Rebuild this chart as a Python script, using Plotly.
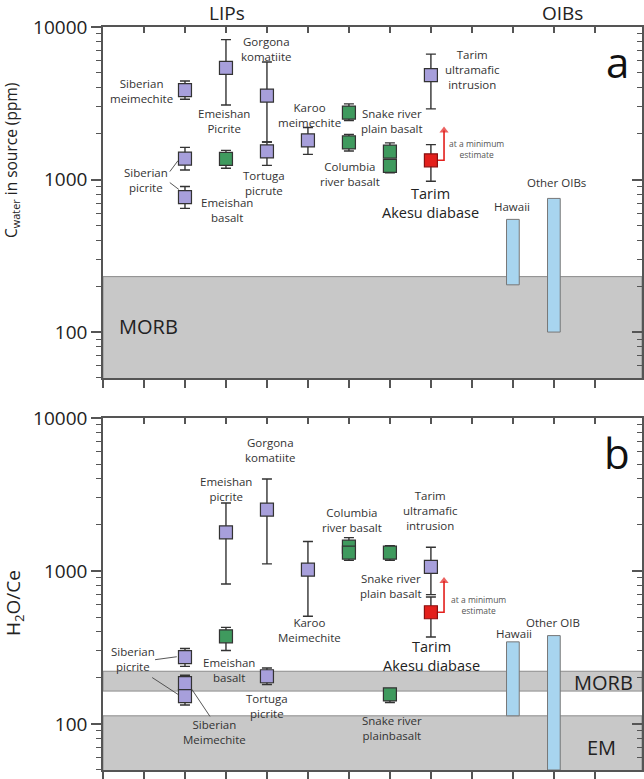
import numpy as np
import plotly.graph_objects as go

# ---------------- data ----------------
# Panel a: C_water in source (ppm)
a_pur_x = [2, 2, 2, 3, 4, 4, 5, 8]
a_pur_y = [3860, 1370, 767, 5400, 3550, 1530, 1806, 4840]
a_pur_hi = [4425, 1625, 900, 8260, 5890, 1761, 2193, 6640]
a_pur_lo = [3357, 1156, 647, 3083, 1761, 1239, 1462, 2904]

a_grn_x = [3, 6, 6, 7, 7]
a_grn_y = [1365, 2749, 1751, 1524, 1230]
a_grn_hi = [1553, 3135, 1976, 1738, 1230]
a_grn_lo = [1186, 2437, 1538, 1524, 1106]

a_red_x = [8]
a_red_y = [1337]
a_red_hi = [1694]
a_red_lo = [975]
a_arrow_top = 2100

a_oib_x = [10, 11]
a_oib_lo = [204, 100]
a_oib_hi = [548, 752]
a_morb = [40, 231]

# Panel b: H2O/Ce
b_pur_x = [2, 2, 2, 3, 4, 4, 5, 8]
b_pur_y = [273, 185, 152, 1790, 2518, 205, 1020, 1062]
b_pur_hi = [311, 208, 152, 2780, 3990, 232, 1557, 1429]
b_pur_lo = [238, 185, 133, 822, 1112, 181, 506, 700]

b_grn_x = [3, 6, 6, 7, 7]
b_grn_y = [374, 1442, 1318, 1318, 156]
b_grn_hi = [428, 1651, 1318, 1465, 166]
b_grn_lo = [302, 1442, 1173, 1175, 138]

b_red_x = [8]
b_red_y = [537]
b_red_hi = [676]
b_red_lo = [370]
b_arrow_top = 860

b_oib_x = [10, 11]
b_oib_lo = [113, 50]
b_oib_hi = [344, 378]
b_morb = [164, 221]
b_em = [40, 113]

tick_major = [100, 1000, 10000]
tick_minor = [m * 10 ** e for e in (1, 2, 3) for m in range(2, 10) if m * 10 ** e >= 50]
x_ticks_bottom = list(range(0, 13))
x_ticks_top = list(range(1, 13))

# ---------------- style ----------------
PURPLE = "#a79fdb"
GREEN = "#3f9a5e"
RED = "#e3201c"
BLUE = "#a8d5ef"
GRAY = "#c8c8c8"
EDGE = "#333333"
AXC = "#555555"
FONT = "Open Sans"
XR = [0, 13.15]
YR = [np.log10(50), 4]

fig = go.Figure()


def pts(x, y, hi, lo, color, xa, ya, lc=EDGE):
    y = np.array(y, float)
    fig.add_trace(go.Scatter(
        x=x, y=y, mode="markers", xaxis=xa, yaxis=ya, showlegend=False,
        marker=dict(symbol="square", size=13, color=color, line=dict(color=lc, width=1.2)),
        error_y=dict(type="data", symmetric=False, array=np.array(hi) - y,
                     arrayminus=y - np.array(lo), color=EDGE, thickness=1.4, width=5),
    ))


def oib(x, lo, hi, xa, ya):
    fig.add_trace(go.Bar(
        x=x, y=np.array(hi) - np.array(lo), base=lo, width=0.31, xaxis=xa, yaxis=ya,
        marker=dict(color=BLUE, line=dict(color="#777777", width=1)), showlegend=False,
    ))


def leader(xs, ys, xa, ya, color="#444444", w=0.9):
    fig.add_trace(go.Scatter(x=xs, y=ys, mode="lines", xaxis=xa, yaxis=ya, showlegend=False,
                             line=dict(color=color, width=w), hoverinfo="skip"))


def red_arrow(xc, y0, y1, xa, ya):
    xs = [xc + 0.14, xc + 0.32, xc + 0.32]
    fig.add_trace(go.Scatter(x=xs, y=[y0, y0, y1], mode="lines+markers", xaxis=xa, yaxis=ya,
                             showlegend=False, hoverinfo="skip",
                             line=dict(color=RED, width=1.6),
                             marker=dict(symbol="triangle-up", size=[0, 0, 8], color=RED,
                                         line=dict(width=0))))


# bars first (under points)
oib(a_oib_x, a_oib_lo, a_oib_hi, "x", "y")
oib(b_oib_x, b_oib_lo, b_oib_hi, "x2", "y2")

# leader lines
leader([1.63, 1.83], [1127, 1330], "x", "y")
leader([1.63, 1.85], [955, 861], "x", "y")
leader([1.27, 1.80], [263, 275], "x2", "y2")
leader([1.20, 1.83], [201, 156], "x2", "y2")
leader([2.17, 2.61], [168, 112], "x2", "y2")

red_arrow(a_red_x[0], a_red_y[0], a_arrow_top, "x", "y")
red_arrow(b_red_x[0], b_red_y[0], b_arrow_top, "x2", "y2")

pts(a_pur_x, a_pur_y, a_pur_hi, a_pur_lo, PURPLE, "x", "y")
pts(a_grn_x, a_grn_y, a_grn_hi, a_grn_lo, GREEN, "x", "y")
pts(a_red_x, a_red_y, a_red_hi, a_red_lo, RED, "x", "y", "#8a1010")
pts(b_pur_x, b_pur_y, b_pur_hi, b_pur_lo, PURPLE, "x2", "y2")
pts(b_grn_x, b_grn_y, b_grn_hi, b_grn_lo, GREEN, "x2", "y2")
pts(b_red_x, b_red_y, b_red_hi, b_red_lo, RED, "x2", "y2", "#8a1010")

# invisible traces so the overlay (top / right) axes render
for xa, ya in (("x3", "y3"), ("x4", "y4")):
    fig.add_trace(go.Scatter(x=[1], y=[1000], xaxis=xa, yaxis=ya, showlegend=False,
                             mode="markers", marker=dict(size=1, opacity=0), hoverinfo="skip"))

# ---------------- bands ----------------
shapes = []
for yref, band in (("y", a_morb), ("y2", b_morb), ("y2", b_em)):
    xref = "x domain" if yref == "y" else "x2 domain"
    shapes.append(dict(type="rect", xref=xref, yref=yref, x0=0, x1=1, y0=band[0], y1=band[1],
                       fillcolor=GRAY, line=dict(color="#8c8c8c", width=1), layer="below"))
fig.update_layout(shapes=shapes)

# ---------------- annotations ----------------
L = np.log10
ann = []


def lab(text, x, y, ref, size=11.5, color="#333333"):
    ann.append(dict(text=text, x=x, y=L(y), xref="x" if ref == 1 else "x2",
                    yref="y" if ref == 1 else "y2", showarrow=False,
                    xanchor="center", yanchor="middle",
                    font=dict(family=FONT, size=size, color=color)))


lab("Siberian<br>meimechite", 0.95, 3820, 1)
lab("Emeishan<br>Picrite", 2.95, 2430, 1)
lab("Gorgona<br>komatiite", 3.98, 7180, 1)
lab("Siberian<br>picrite", 1.05, 1000, 1)
lab("Emeishan<br>basalt", 3.02, 627, 1)
lab("Tortuga<br>picrute", 3.93, 955, 1)
lab("Karoo<br>meimechite", 5.05, 2660, 1)
lab("Columbia<br>river basalt", 6.02, 1094, 1)
lab("Snake river<br>plain basalt", 7.05, 2430, 1)
lab("Tarim<br>ultramafic<br>intrusion", 9.02, 5230, 1)
lab("Tarim<br>Akesu diabase", 7.98, 697, 1, 14.5, "#222222")
lab("at a minimum<br>estimate", 9.12, 1596, 1, 8.5, "#555555")
lab("Hawaii", 9.98, 667, 1)
lab("Other OIBs", 11.07, 955, 1)
lab("MORB", 1.10, 108, 1, 20, "#222222")
lab("a", 12.54, 10 ** 3.771, 1, 42, "#111111")

lab("Gorgona<br>komatiite", 4.07, 10 ** 3.793, 2)
lab("Emeishan<br>picrite", 3.0, 10 ** 3.538, 2)
lab("Karoo<br>Meimechite", 5.05, 10 ** 2.616, 2)
lab("Siberian<br>picrite", 0.73, 10 ** 2.427, 2)
lab("Emeishan<br>basalt", 3.07, 10 ** 2.355, 2)
lab("Tortuga<br>picrite", 4.0, 10 ** 2.120, 2)
lab("Siberian<br>Meimechite", 2.71, 10 ** 1.950, 2)
lab("Columbia<br>river basalt", 6.07, 10 ** 3.335, 2)
lab("Tarim<br>ultramafic<br>intrusion", 8.0, 10 ** 3.394, 2)
lab("Snake river<br>plain basalt", 7.02, 10 ** 2.904, 2)
lab("at a minimum<br>estimate", 9.15, 10 ** 2.780, 2, 8.5, "#555555")
lab("Tarim<br>Akesu diabase", 8.02, 10 ** 2.446, 2, 14.5, "#222222")
lab("Hawaii", 10.02, 10 ** 2.590, 2)
lab("Other OIB", 10.98, 10 ** 2.662, 2)
lab("Snake river<br>plainbasalt", 7.05, 10 ** 1.976, 2)
lab("MORB", 12.2, 10 ** 2.270, 2, 20, "#222222")
lab("EM", 12.17, 10 ** 1.845, 2, 20, "#222222")
lab("b", 12.54, 10 ** 3.773, 2, 42, "#111111")

# headers and axis titles
hdr = dict(showarrow=False, xanchor="center", yanchor="middle", borderpad=0,
           font=dict(family=FONT, size=19, color="#222222"))
ann.append(dict(text="LIPs", x=3.02, y=1.0182, xref="x", yref="paper", **hdr))
ann.append(dict(text="OIBs", x=11.2, y=1.0182, xref="x", yref="paper", **hdr))
ann.append(dict(text="C<sub>water</sub> in source (ppm)", x=-0.169, y=0.821, xref="paper",
                yref="paper", showarrow=False, textangle=-90, xanchor="center",
                yanchor="middle", font=dict(family=FONT, size=15.5, color="#222222")))
ann.append(dict(text="H<sub>2</sub>O/Ce", x=-0.165, y=0.2248, xref="paper", yref="paper",
                showarrow=False, textangle=-90, xanchor="center", yanchor="middle",
                font=dict(family=FONT, size=19, color="#222222")))
fig.update_layout(annotations=ann)

# ---------------- axes ----------------
common_x = dict(range=XR, showgrid=False, zeroline=False, showline=True, linecolor=AXC,
                linewidth=1.5, showticklabels=False, tickcolor=AXC, tickwidth=1.5)
common_y = dict(type="log", range=YR, showgrid=False, zeroline=False, showline=True,
                linecolor=AXC, linewidth=1.5, tickcolor=AXC, tickwidth=1.5,
                tickmode="array", tickvals=tick_major, ticktext=[str(v) for v in tick_major],
                tickfont=dict(family=FONT, size=19, color="#222222"), ticklen=10)
right_y = {k: v for k, v in common_y.items() if k != "tickfont"}

fig.update_layout(
    width=644, height=779, margin=dict(l=103, r=2, t=27, b=9),
    paper_bgcolor="white", plot_bgcolor="white", barmode="overlay", showlegend=False,
    xaxis=dict(**common_x, anchor="y", tickmode="array", tickvals=x_ticks_bottom,
               ticks="outside", ticklen=8),
    xaxis3=dict(**common_x, overlaying="x", side="top", anchor="y", tickmode="array",
                tickvals=x_ticks_top, ticks="inside", ticklen=6),
    yaxis=dict(**common_y, domain=[0.5276, 1], anchor="x", ticks="outside",
               minor=dict(tickvals=tick_minor, ticks="outside", ticklen=5, tickcolor=AXC,
                          tickwidth=1.2)),
    yaxis3=dict(**right_y, overlaying="y", side="right", anchor="x", ticks="inside",
                showticklabels=False,
                minor=dict(tickvals=tick_minor, ticks="inside", ticklen=5, tickcolor=AXC,
                           tickwidth=1.2)),
    xaxis2=dict(**common_x, anchor="y2", tickmode="array", tickvals=x_ticks_bottom,
                ticks="outside", ticklen=8),
    xaxis4=dict(**common_x, overlaying="x2", side="top", anchor="y2", tickmode="array",
                tickvals=x_ticks_top, ticks="inside", ticklen=6),
    yaxis2=dict(**common_y, domain=[0, 0.4738], anchor="x2", ticks="outside",
                minor=dict(tickvals=tick_minor, ticks="outside", ticklen=5, tickcolor=AXC,
                           tickwidth=1.2)),
    yaxis4=dict(**right_y, overlaying="y2", side="right", anchor="x2", ticks="inside",
                showticklabels=False,
                minor=dict(tickvals=tick_minor, ticks="inside", ticklen=5, tickcolor=AXC,
                           tickwidth=1.2)),
)

fig.write_html("out.html", config={"displayModeBar": False},
               post_script="document.body.style.margin='0';")
